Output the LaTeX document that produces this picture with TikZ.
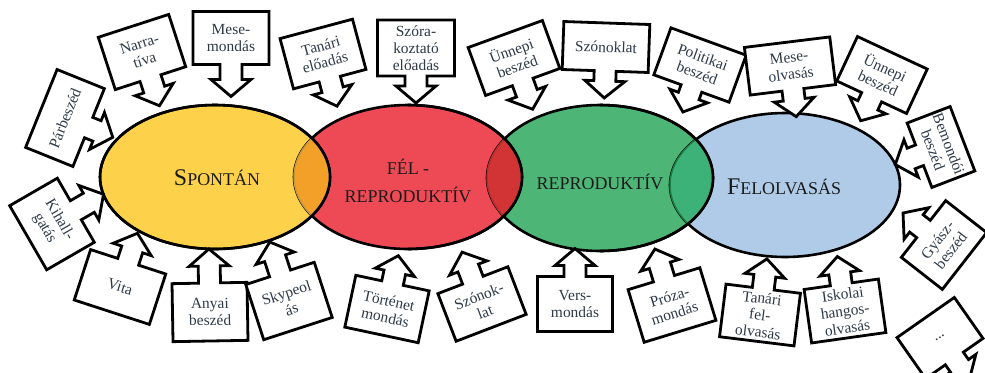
\documentclass[tikz,border=0pt]{standalone}
\usepackage{fontspec}
\setmainfont{Liberation Serif}
\definecolor{yel}{HTML}{FDD14A}
\definecolor{red1}{HTML}{EE4A56}
\definecolor{grn}{HTML}{4DB676}
\definecolor{blu}{HTML}{AFCBE8}
\definecolor{lensYR}{HTML}{F2A028}
\definecolor{lensRG}{HTML}{D23436}
\definecolor{lensGB}{HTML}{3CB278}
\definecolor{faintYR}{HTML}{C89A38}
\definecolor{faintRG}{HTML}{B22E30}
\definecolor{faintGB}{HTML}{1E7F46}
\definecolor{txt}{HTML}{2E3A48}
\definecolor{labtxt}{HTML}{1A1A1A}
\newcommand{\callout}[9]{%
  \begin{scope}[shift={(#2,#3)},rotate=#4]
    \pgfmathsetmacro\cWw{#5/2}
    \pgfmathsetmacro\cYa{#8*#6/2}
    \pgfmathsetmacro\cYb{#8*(#6/2+#7-17)}
    \pgfmathsetmacro\cYc{#8*(#6/2+#7)}
    \draw[callline] (-\cWw,-\cYa) -- (\cWw,-\cYa) -- (\cWw,\cYa) -- (11,\cYa) -- (11,\cYb) -- (20,\cYb) -- (0,\cYc) -- (-20,\cYb) -- (-11,\cYb) -- (-11,\cYa) -- (-\cWw,\cYa) -- cycle;
    \node[calltext, rotate=#4] (#1) at (0,0) {#9};
    \coordinate (#1-tip) at (0,\cYc);
  \end{scope}}
\begin{document}
\begin{tikzpicture}[x=1bp,y=-1bp,
  callline/.style={draw=black, line width=2.8bp, fill=white, line join=miter},
  calltext/.style={font=\fontsize{15.5}{17}\selectfont, text=txt, align=center, inner sep=0pt},
  ell/.style={line width=2.6bp, draw=black},
  lab/.style={text=labtxt, align=center, inner sep=0pt}]
\useasboundingbox (0,0) rectangle (985,372);
% fills
\fill[yel] (215,177) ellipse [x radius=115, y radius=72];
\fill[red1] (408,177) ellipse [x radius=114, y radius=72];
\fill[grn] (600,178) ellipse [x radius=113, y radius=73];
\fill[blu] (785,185) ellipse [x radius=115, y radius=72];
% outlines
\draw[ell] (215,177) ellipse [x radius=115, y radius=72];
\draw[ell] (408,177) ellipse [x radius=114, y radius=72];
\draw[ell] (600,178) ellipse [x radius=113, y radius=73];
\draw[ell] (785,185) ellipse [x radius=115, y radius=72];
% lenses
\begin{scope}
  \clip (215,177) ellipse [x radius=115, y radius=72];
  \fill[lensYR] (408,177) ellipse [x radius=114, y radius=72];
  \draw[faintYR, line width=1.5bp] (408,177) ellipse [x radius=114, y radius=72];
\end{scope}
\begin{scope}
  \clip (408,177) ellipse [x radius=114, y radius=72];
  \fill[lensRG] (600,178) ellipse [x radius=113, y radius=73];
  \draw[faintRG, line width=1.5bp] (600,178) ellipse [x radius=113, y radius=73];
\end{scope}
\begin{scope}
  \clip (600,178) ellipse [x radius=113, y radius=73];
  \fill[lensGB] (785,185) ellipse [x radius=115, y radius=72];
  \draw[faintGB, line width=1.5bp] (785,185) ellipse [x radius=115, y radius=72];
\end{scope}
% redraw black arcs
\draw[ell] (215,177) ellipse [x radius=115, y radius=72];
\begin{scope}
  \clip (408,90) rectangle (540,260);
  \draw[ell] (408,177) ellipse [x radius=114, y radius=72];
\end{scope}
\begin{scope}
  \clip (600,90) rectangle (730,260);
  \draw[ell] (600,178) ellipse [x radius=113, y radius=73];
\end{scope}
% labels
\node[lab] (spontan) at (217,178) {\fontsize{24}{24}\selectfont S\fontsize{18}{18}\selectfont PONTÁN};
\node[lab, font=\fontsize{18}{28}\selectfont] (felrep) at (408,181) {FÉL -\\REPRODUKTÍV};
\node[lab, font=\fontsize{18}{28}\selectfont] (repr) at (600,182) {REPRODUKTÍV};
\node[lab] (felolv) at (784,187) {\fontsize{24}{24}\selectfont F\fontsize{18}{18}\selectfont ELOLVASÁS};
% callouts
\callout{parb}{65}{118}{68}{84}{51}{26}{1}{Párbeszéd}
\callout{narr}{142}{52}{18}{74}{55}{29}{1}{Narra-\\tíva}
\callout{mese}{231}{38}{0}{76}{53}{32}{1}{Mese-\\mondás}
\callout{tanel}{323}{54}{15}{75}{52}{28}{1}{Tanári\\előadás}
\callout{szor}{416}{48}{0}{77}{56}{27}{1}{Szóra-\\koztató\\előadás}
\callout{unn1}{514}{58}{20}{79}{51}{29}{1}{Ünnepi\\beszéd}
\callout{szon1}{606}{47}{-2}{86}{48}{27}{1}{Szónoklat}
\callout{pol}{700}{65}{-20}{80}{50}{25}{1}{Politikai\\beszéd}
\callout{meseolv}{790}{66}{7}{86}{48}{27}{1}{Mese-\\olvasás}
\callout{unn2}{882}{75}{-25}{77}{49}{26}{1}{Ünnepi\\beszéd}
\callout{bemond}{941}{147}{-69}{69}{46}{26}{1}{Bemondói\\beszéd}
\callout{kihall}{52}{224}{-60}{74}{55}{32}{-1}{Kihall-\\gatás}
\callout{vita}{120}{287}{-18}{79}{53}{30}{-1}{Vita}
\callout{anyai}{210}{312}{1}{75}{58}{34}{-1}{Anyai\\beszéd}
\callout{skype}{289}{301}{18}{72}{58}{33}{-1}{Skypeol\\ás}
\callout{tort}{387}{309}{-12}{75}{53}{28}{-1}{Történet\\mondás}
\callout{szon2}{482}{304}{21}{75}{51}{30}{-1}{Szónok-\\lat}
\callout{vers}{575}{304}{0}{75}{55}{28}{-1}{Vers-\\mondás}
\callout{proza}{672}{305}{17}{75}{55}{31}{-1}{Próza-\\mondás}
\callout{tanfel}{760}{315}{-7}{75}{53}{30}{-1}{Tanári\\fel-\\olvasás}
\callout{isk}{845}{311}{8}{75}{54}{28}{-1}{Iskolai\\hangos-\\olvasás}
\callout{gyasz}{944}{245}{52}{72}{52}{26}{-1}{Gyász-\\beszéd}
\callout{dots}{940}{338}{35}{70}{50}{26}{1}{...}
\end{tikzpicture}
\end{document}
